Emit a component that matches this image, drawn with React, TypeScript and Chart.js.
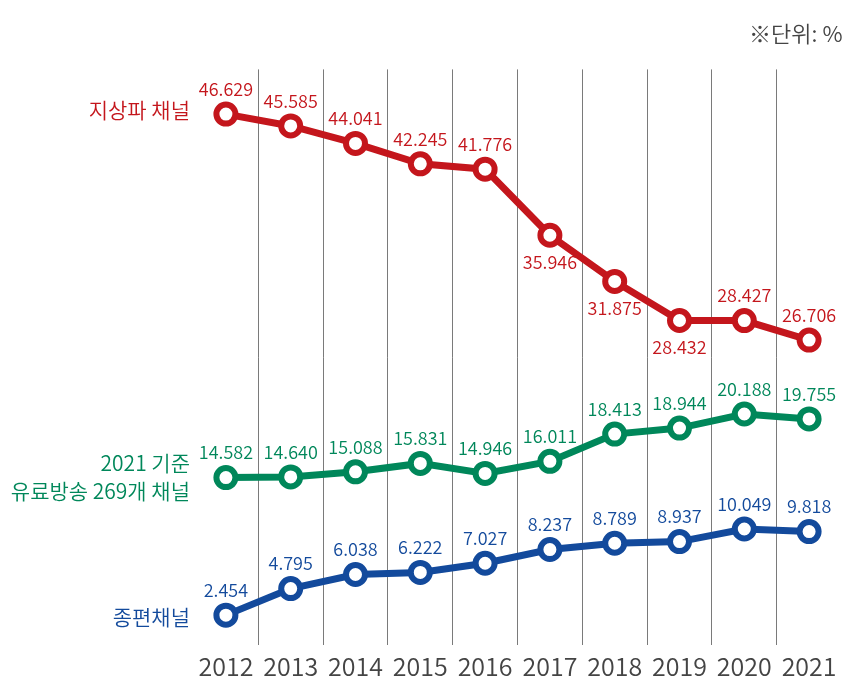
import { Chart, registerables } from "chart.js";
import { useEffect, useRef } from "react";

Chart.register(...registerables);

const years = ["2012", "2013", "2014", "2015", "2016", "2017", "2018", "2019", "2020", "2021"];
const terrestrial = [46.629, 45.585, 44.041, 42.245, 41.776, 35.946, 31.875, 28.432, 28.427, 26.706];
const paidTv = [14.582, 14.64, 15.088, 15.831, 14.946, 16.011, 18.413, 18.944, 20.188, 19.755];
const generalTv = [2.454, 4.795, 6.038, 6.222, 7.027, 8.237, 8.789, 8.937, 10.049, 9.818];
const seriesNames = [["지상파 채널"], ["2021 기준", "유료방송 269개 채널"], ["종편채널"]];
const unitText = "※단위: %";

const colors = ["#c4161c", "#00875a", "#134a9c"];
// which side of the point the value label goes
const labelSides = [
  ["up", "up", "up", "up", "up", "down", "down", "down", "up", "up"],
  Array(10).fill("up"),
  Array(10).fill("up"),
];
const nameOffsets = [-4, -1, 2];
const FONT = '"Noto Sans CJK KR", "Noto Sans", sans-serif';

const labelPlugin = {
  id: "pointLabels",
  afterDatasetsDraw(chart: any) {
    const { ctx, chartArea } = chart;
    ctx.save();
    chart.data.datasets.forEach((ds: any, i: number) => {
      const meta = chart.getDatasetMeta(i);
      ctx.fillStyle = colors[i];
      ctx.textBaseline = "middle";
      ctx.textAlign = "center";
      ctx.font = `350 18px ${FONT}`;
      meta.data.forEach((pt: any, j: number) => {
        const down = labelSides[i][j] === "down";
        ctx.fillText(Number(ds.data[j]).toFixed(3), pt.x, pt.y + (down ? 27 : -25));
      });
      const lines = seriesNames[i];
      const first = meta.data[0];
      ctx.textAlign = "right";
      ctx.font = `350 21px ${FONT}`;
      const lh = 28;
      lines.forEach((line, k) => {
        const y = first.y + nameOffsets[i] + (k - (lines.length - 1) / 2) * lh;
        ctx.fillText(line, chartArea.left - 3.5, y);
      });
    });
    ctx.restore();
  },
};

export default function App() {
  const canvasRef = useRef<HTMLCanvasElement | null>(null);
  const chartRef = useRef<Chart | null>(null);

  useEffect(() => {
    if (!canvasRef.current) return;
    const ctx = canvasRef.current.getContext("2d");
    if (!ctx) return;
    const series = [terrestrial, paidTv, generalTv];
    chartRef.current = new Chart(ctx, {
      type: "line",
      data: {
        labels: years,
        datasets: series.map((values, i) => ({
          label: seriesNames[i].join(" "),
          data: values,
          borderColor: colors[i],
          borderWidth: 7,
          pointRadius: 9.5,
          pointBorderWidth: 6,
          pointBackgroundColor: "#ffffff",
          pointBorderColor: colors[i],
          tension: 0,
        })),
      },
      options: {
        animation: false,
        responsive: true,
        maintainAspectRatio: false,
        layout: { padding: { left: 185.5, right: 14.5, top: 0, bottom: 0 } },
        plugins: {
          legend: { display: false },
          tooltip: { enabled: false },
          title: {
            display: true,
            text: unitText,
            align: "end",
            color: "#444444",
            font: { family: FONT, size: 22, weight: 350 },
            padding: { top: 12, bottom: 23 },
          },
        },
        scales: {
          x: {
            offset: true,
            afterFit: (scale: any) => {
              scale.height = 42;
            },
            grid: {
              offset: true,
              drawTicks: false,
              lineWidth: 1,
              color: (c: any) => (c.type === "tick" && c.index > 0 ? "#7a7a7a" : "rgba(0,0,0,0)"),
            },
            border: { display: false },
            ticks: {
              color: "#444444",
              padding: 6,
              font: { family: FONT, size: 25, weight: 350 },
            },
          },
          y: {
            display: false,
            min: -0.18,
            max: 50.57,
          },
        },
      },
      plugins: [labelPlugin],
    });
    return () => {
      chartRef.current?.destroy();
      chartRef.current = null;
    };
  }, []);

  return (
    <div style={{ width: 849, height: 679, position: "relative" }}>
      <canvas ref={canvasRef} />
    </div>
  );
}
